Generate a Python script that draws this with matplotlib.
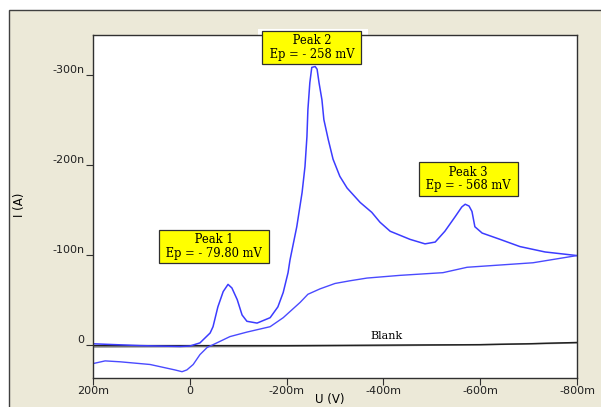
import matplotlib
matplotlib.use("Agg")
import matplotlib.pyplot as plt
from matplotlib.patches import Rectangle
import numpy as np

# potential in mV, current in nA (cathodic = negative, axis inverted)
fwd_mv = [200, 103, 20, 0, -21, -42, -48, -58, -69, -79, -87, -98, -108, -118,
          -139, -166, -182, -193, -203, -207, -221, -232, -238, -242, -244,
          -248, -252, -259, -263, -267, -273, -277, -286, -296, -310, -325,
          -352, -376, -393, -414, -455, -486, -507, -527, -548, -562, -569,
          -577, -583, -589, -604, -641, -682, -734, -800]
fwd_na = [-1, 1, 2, 1.5, -2, -13, -20, -42, -59, -67, -63, -50, -33, -26,
          -24, -30, -42, -58, -80, -94, -131, -169, -198, -231, -261,
          -291, -308, -309, -306, -291, -272, -250, -228, -206, -187, -174,
          -158, -147, -136, -126, -117, -112, -114, -126, -142, -153, -156,
          -154, -148, -131, -124, -117, -109, -103, -99]

rev_mv = [-800, -709, -573, -523, -434, -366, -331, -300, -269, -244, -228,
          -193, -166, -118, -83, -48, -36, -21, -7, 6, 16, 31, 82, 144, 175,
          200]
rev_na = [-99, -91, -86, -80, -77, -74, -71, -68, -62, -56, -47,
          -30, -20, -14, -9, 0, 3, 11, 22, 28, 30, 28, 22, 19, 18, 21]

blank_mv = [200, 0, -200, -400, -600, -700, -800]
blank_na = [1, 1, 1, 0.5, 0, -1, -2.5]
blank2_mv = [200, -100, -400, -600, -800]
blank2_na = [2.5, 2, 1, 0, -2]

x_ticks = [200, 0, -200, -400, -600, -800]
x_labels = ["200m", "0", "-200m", "-400m", "-600m", "-800m"]
y_ticks = [0, -100, -200, -300]
y_labels = ["0", "-100n", "-200n", "-300n"]

peaks = [(" Peak 1 \n Ep = - 79.80 mV ", -50, -109),
         (" Peak 2 \n Ep = - 258 mV ", -252, -330),
         (" Peak 3 \n Ep = - 568 mV ", -575, -184)]

W, H = 601, 407
fig = plt.figure(figsize=(W / 100, H / 100), dpi=100)
fig.patch.set_facecolor("white")
fig.patches.append(Rectangle((9 / W, -0.01), 1.0, (H - 10) / H + 0.01,
                             transform=fig.transFigure, facecolor="#ECE9D8",
                             edgecolor="#404040", lw=1.0, zorder=0))
fig.patches.append(Rectangle((258 / W, 1 - 36 / H), 110 / W, 7 / H,
                             transform=fig.transFigure, facecolor="white",
                             edgecolor="none", zorder=0.5))

ax = fig.add_axes([93 / W, 29 / H, 484 / W, 343 / H])
ax.set_zorder(1)
ax.set_facecolor("white")
ax.plot(blank2_mv, blank2_na, color="#909090", lw=1.2)
ax.plot(blank_mv, blank_na, color="#202020", lw=1.0)
ax.plot(fwd_mv, fwd_na, color="#3c3cff", lw=1.1)
ax.plot(rev_mv, rev_na, color="#4a4aff", lw=1.0)

ax.set_xlim(200, -800)
ax.set_ylim(37, -344)
ax.set_xticks(x_ticks, x_labels)
ax.set_yticks(y_ticks, y_labels)
ax.tick_params(axis="both", length=5, width=0.8, color="#303030",
               labelsize=8, labelcolor="#202020")
ax.tick_params(axis="y", pad=1)
ax.tick_params(axis="x", pad=1)
for lab in ax.get_yticklabels():
    lab.set_verticalalignment("bottom")
for s in ax.spines.values():
    s.set_color("#303030")
    s.set_linewidth(1.0)

for txt, x, y in peaks:
    t = ax.text(x, y, txt, ha="center", va="center", fontsize=8.3,
                family="DejaVu Serif", linespacing=1.05, zorder=5,
                bbox=dict(boxstyle="square,pad=0.3", facecolor="#FFFF00",
                          edgecolor="#303030", lw=0.9))
    t.set_clip_on(False)
ax.text(-407, -10, "Blank", ha="center", va="center", fontsize=8,
        family="DejaVu Serif")

fig.text(20 / W, 1 - 205 / H, "I (A)", rotation=90, ha="center", va="center",
         fontsize=8.5, zorder=2)
fig.text(330 / W, 1 - 399 / H, "U (V)", ha="center", va="center", fontsize=8.5,
         zorder=2)

fig.savefig("out.png", dpi=100)
